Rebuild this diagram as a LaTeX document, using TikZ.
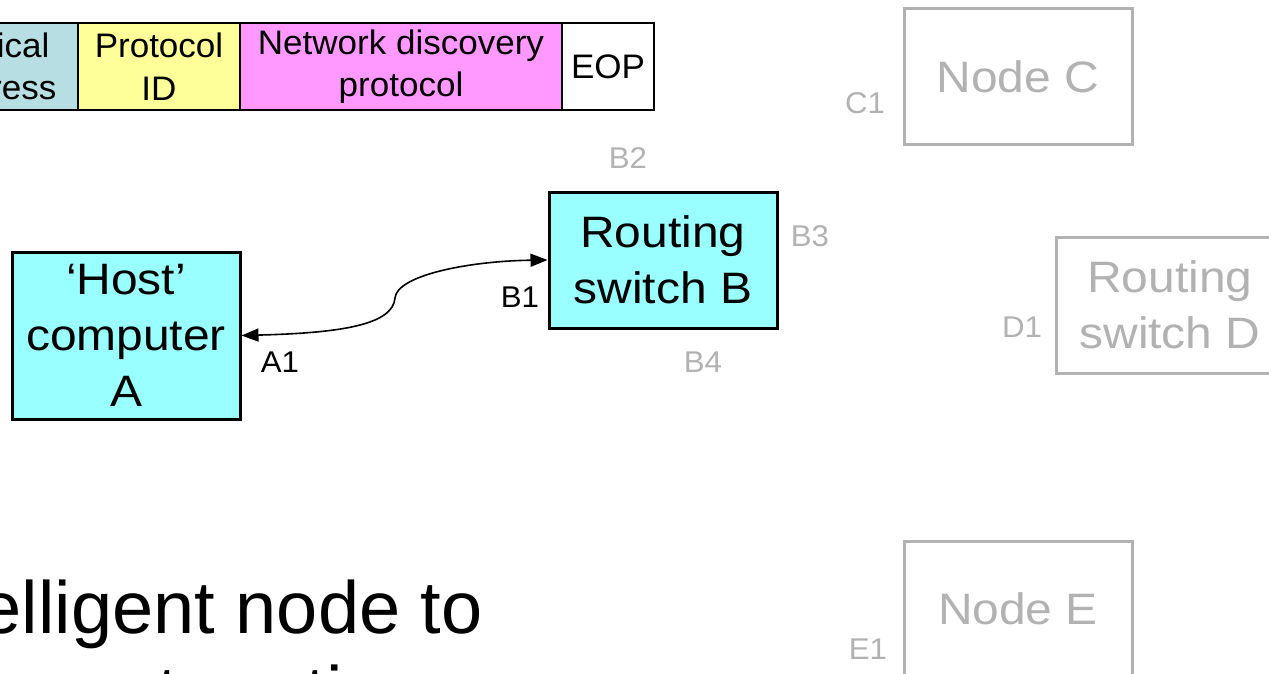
\documentclass[tikz,border=0pt]{standalone}
\usepackage{fontspec}
\setmainfont{Liberation Sans}
\newfontfamily\unitfont[FakeStretch=1.09]{Liberation Sans}
\newfontfamily\fieldfont[FakeStretch=1.03]{Liberation Sans}
\newfontfamily\portfont[FakeStretch=1.04]{Liberation Sans}
\usetikzlibrary{arrows.meta}

\definecolor{unitfill}{HTML}{99FFFF}
\definecolor{addrfill}{HTML}{B7DEE2}
\definecolor{pidfill}{HTML}{FFFF99}
\definecolor{ndpfill}{HTML}{FF99FF}
\definecolor{faded}{HTML}{B2B2B2}

\begin{document}
\begin{tikzpicture}[x=1pt,y=-1pt,
  field/.style={draw=black, line width=1.3pt, inner sep=0pt, minimum height=87pt,
    align=center, font=\fieldfont\fontsize{34}{42.5}\selectfont},
  unit/.style={draw=black, line width=3pt, fill=unitfill, inner sep=0pt,
    minimum width=228pt, minimum height=136pt, align=center,
    font=\unitfont\fontsize{44}{56}\selectfont},
  ghost/.style={draw=faded, text=faded, line width=3pt, inner sep=0pt,
    minimum width=228pt, minimum height=136pt, align=center,
    font=\unitfont\fontsize{44}{56}\selectfont},
  port/.style={inner sep=0pt, font=\portfont\fontsize{30}{30}\selectfont},
  gport/.style={port, text=faded},
  link/.style={line width=1.6pt, {Triangle[length=17pt,width=13pt]}-{Triangle[length=17pt,width=13pt]}},
  bullet/.style={inner sep=0pt, font=\fontsize{74}{85}\selectfont}
]
\useasboundingbox (0,0) rectangle (1269,674);
\clip (0,0) rectangle (1269,674);
\fill[white] (0,0) rectangle (1269,674);

% packet fields
\node[field, fill=addrfill, minimum width=168pt] (addr) at (-6,66.5) {Logical\\address};
\node[field, fill=pidfill, minimum width=162pt] (pid) at (159,66.5) {Protocol\\ID};
\node[field, fill=ndpfill, minimum width=322pt] (ndp) at (401,66.5) {Network discovery\\protocol};
\node[field, fill=white, minimum width=92pt] (eop) at (608,66.5) {EOP};

% active units
\node[unit, minimum height=167pt] (A) at (126,335.5) {‘Host’\\computer\\A};
\node[unit] (B) at (663,260) {Routing\\switch B};

% units not yet reached
\node[ghost] (C) at (1018,77) {Node C};
\node[ghost] (D) at (1170,305) {Routing\\switch D};
\node[ghost] (E) at (1018,609) {Node E};

% port labels
\node[port] (a1) at (280,362) {A1};
\node[port] (b1) at (520,297) {B1};
\node[gport] (b2) at (628,158) {B2};
\node[gport] (b3) at (810,236) {B3};
\node[gport] (b4) at (703,362) {B4};
\node[gport] (c1) at (865,103) {C1};
\node[gport] (d1) at (1022,327) {D1};
\node[gport] (e1) at (868,649) {E1};

% link between host and switch
\coordinate (bend) at (395,298);
\draw[link] (A.east) .. controls (340,333) and (393,325) .. (bend)
  .. controls (397,275) and (470,261) .. (B.west);

% slide text
\node[bullet, anchor=base east] (t1) at (483,633) {intelligent node to};
\node[bullet, anchor=base west] (t2) at (-254,718) {management routing};
\end{tikzpicture}
\end{document}
